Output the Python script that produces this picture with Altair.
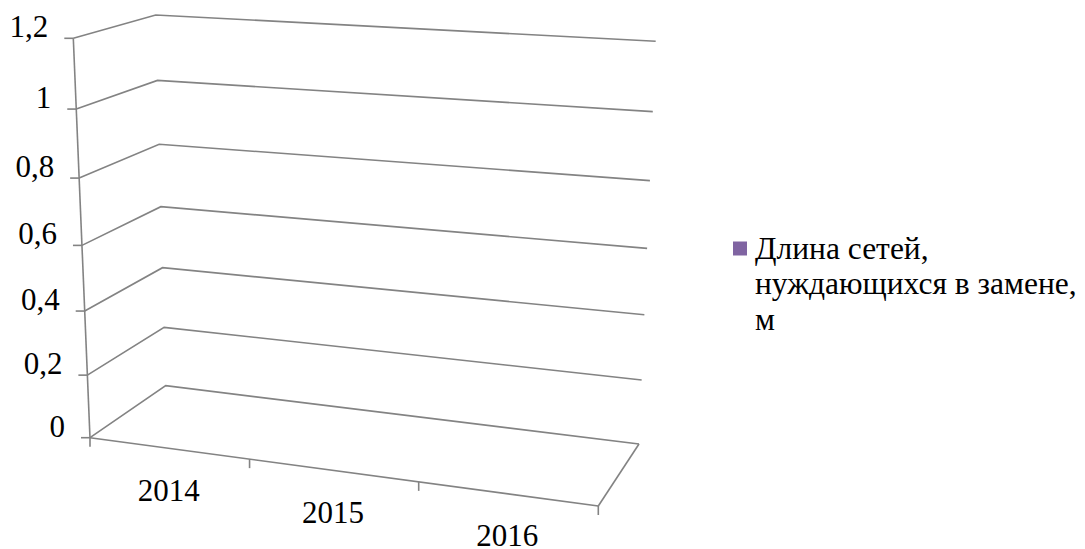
import altair as alt
import pandas as pd
import numpy as np

# ---------------- data ----------------
categories = ["2014", "2015", "2016"]
series_name = "Длина сетей, нуждающихся в замене, м"
series_lines = ["Длина сетей,", "нуждающихся в замене,", "м"]
series_values = [0, 0, 0]
series_color = "#8064A2"
y_ticks = [0, 0.2, 0.4, 0.6, 0.8, 1.0, 1.2]
y_tick_labels = ["0", "0,2", "0,4", "0,6", "0,8", "1", "1,2"]
y_max = 1.2

# ---------------- layout: projected corners of the 3D plot box (page px) ----------------
FLB = (90.0, 437.7)   # front-left-bottom
FLT = (73.3, 38.3)    # front-left-top
BLB = (165.7, 385.7)  # back-left-bottom
BLT = (155.7, 15.0)   # back-left-top
BRB = (639.0, 444.0)  # back-right-bottom
BRT = (655.7, 41.3)   # back-right-top
FRB = (598.3, 506.0)  # front-right-bottom
TICK = 9
FONT = "Liberation Serif"
FS = 31
LEG_FS = 31.5
LEG_X, LEG_Y0, LEG_LH = 755, 258.5, 35.8
GRID = "#838383"


def homography(dst):
    src = [(0, 0), (1, 0), (0, 1), (1, 1)]
    A, b = [], []
    for (u, v), (X, Y) in zip(src, dst):
        A.append([u, v, 1, 0, 0, 0, -u * X, -v * X]); b.append(X)
        A.append([0, 0, 0, u, v, 1, -u * Y, -v * Y]); b.append(Y)
    h = np.linalg.solve(np.array(A, float), np.array(b, float))
    H = np.append(h, 1.0).reshape(3, 3)

    def f(u, v):
        x, y, w = H @ np.array([u, v, 1.0])
        return float(x / w), float(y / w)
    return f


left_wall = homography([FLB, BLB, FLT, BLT])   # u = depth, v = value fraction
back_wall = homography([BLB, BRB, BLT, BRT])   # u = category fraction, v = value fraction
floor = homography([FLB, FRB, BLB, BRB])       # u = category fraction, v = depth

rows = []


def add(group, pts):
    for i, (x, y) in enumerate(pts):
        rows.append({"x": x, "y": y, "g": group, "o": i})


# gridlines on the left and back walls
for v in y_ticks:
    t = v / y_max
    add(f"grid{v}", [left_wall(0, t), left_wall(1, t), back_wall(1, t)])
# front-left value axis
add("axis", [left_wall(0, 0), left_wall(0, 1)])
# floor front and right edges
add("floor_front", [floor(0, 0), floor(1, 0)])
add("floor_right", [floor(1, 0), floor(1, 1)])
# value ticks
for v in y_ticks:
    px, py = left_wall(0, v / y_max)
    add(f"ytick{v}", [(px - TICK, py), (px, py)])
# category ticks
n = len(categories)
for i in range(n + 1):
    px, py = floor(i / n, 0)
    add(f"xtick{i}", [(px, py), (px, py + TICK)])

lines_df = pd.DataFrame(rows)

ylab = []
for v, lab in zip(y_ticks, y_tick_labels):
    px, py = left_wall(0, v / y_max)
    ylab.append({"x": px - 25, "y": py - 1, "label": lab})
ylab_df = pd.DataFrame(ylab)

xlab = []
for i, c in enumerate(categories):
    px, py = floor((i + 0.5) / n, 0)
    xlab.append({"x": px, "y": py + 52.5, "label": c, "value": series_values[i]})
xlab_df = pd.DataFrame(xlab)

legend_sym = pd.DataFrame([{"x": 740, "y": 248.5, "name": series_name}])
legend_txt = pd.DataFrame([{"x": LEG_X, "y": LEG_Y0 + i * LEG_LH, "label": s}
                           for i, s in enumerate(series_lines)])

W, H = 1069, 541
xs = alt.Scale(domain=[8, 8 + W], nice=False, zero=False)
ys = alt.Scale(domain=[8, 8 + H], nice=False, zero=False, reverse=True)
X = alt.X("x:Q", scale=xs, axis=None)
Y = alt.Y("y:Q", scale=ys, axis=None)

lines = alt.Chart(lines_df).mark_line(color=GRID, strokeWidth=1.6).encode(
    x=X, y=Y, detail="g:N", order="o:Q")

ytext = alt.Chart(ylab_df).mark_text(
    align="right", baseline="alphabetic", font=FONT, fontSize=FS, color="black"
).encode(x=X, y=Y, text="label:N")

xtext = alt.Chart(xlab_df).mark_text(
    align="center", baseline="alphabetic", font=FONT, fontSize=FS, color="black"
).encode(x=X, y=Y, text="label:N")

sym = alt.Chart(legend_sym).mark_square(size=196, opacity=1, color=series_color).encode(x=X, y=Y)

ltext = alt.Chart(legend_txt).mark_text(
    align="left", baseline="alphabetic", font=FONT, fontSize=LEG_FS, color="black"
).encode(x=X, y=Y, text="label:N")

chart = alt.layer(lines, ytext, xtext, sym, ltext).properties(
    width=W, height=H, autosize=alt.AutoSizeParams(type="none"), padding=0,
    background="white",
).configure_view(strokeWidth=0)

chart.save("out.html", embed_options={"renderer": "svg", "actions": False})
